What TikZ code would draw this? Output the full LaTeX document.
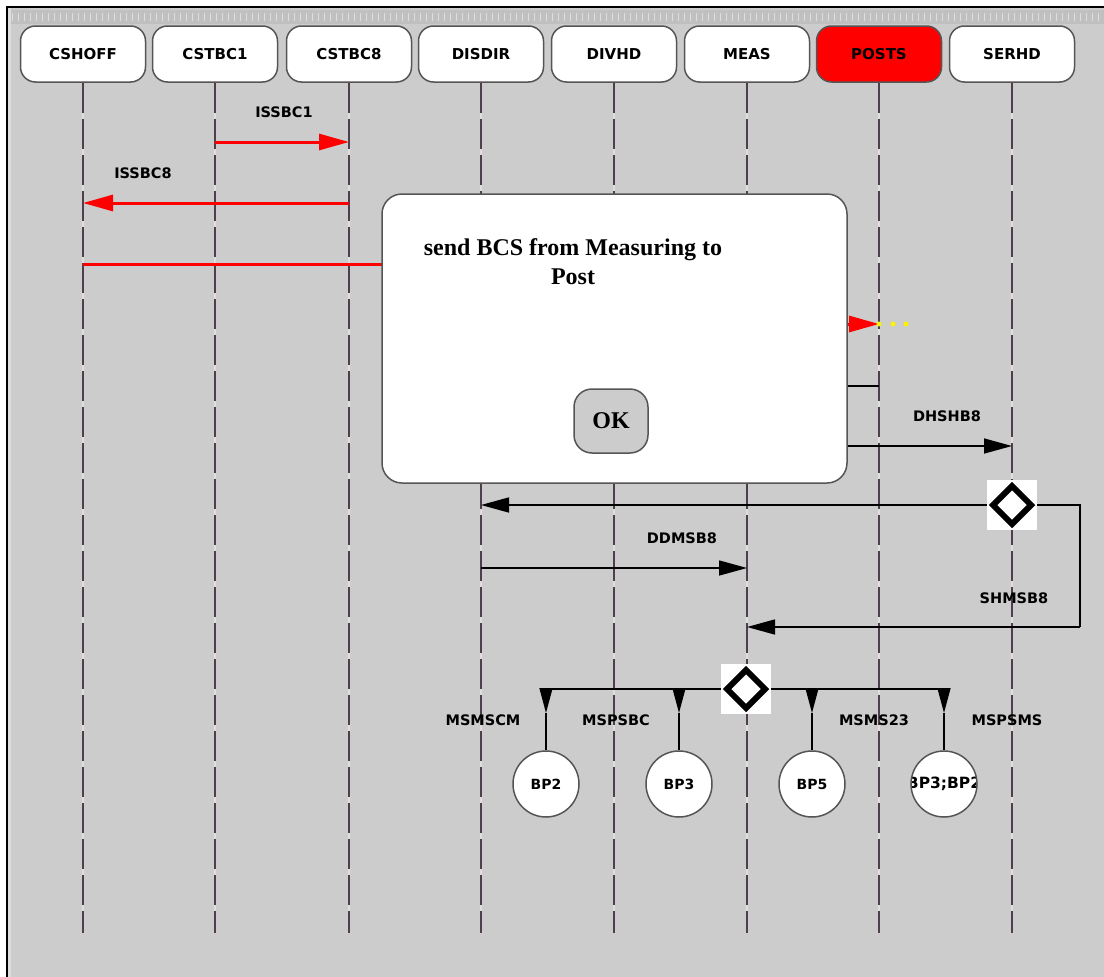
\documentclass[tikz,border=0pt]{standalone}
\usepackage{fontspec}
\usepackage{xcolor}
\usepackage{tikz}
\usetikzlibrary{arrows.meta}
\newfontfamily\dlgfont{DejaVu Sans}
\newfontfamily\popfont{Liberation Serif}
\definecolor{panelgray}{RGB}{204,204,204}
\definecolor{rulergray}{RGB}{192,192,192}
\definecolor{tickgray}{RGB}{222,222,222}
\definecolor{lifecol}{RGB}{78,62,78}
\definecolor{edgecol}{RGB}{85,85,85}
\tikzset{
  hdr/.style={draw=edgecol, line width=1.5pt, rounded corners=15pt, minimum width=125pt,
    minimum height=56pt, inner sep=0pt, font=\dlgfont\bfseries\fontsize{15}{18}\selectfont},
  life/.style={lifecol, line width=2pt, dash pattern=on 30pt off 6pt},
  lifegap/.style={tickgray, line width=1.5pt},
  redmsg/.style={red, line width=3pt, -{Triangle[length=30pt,width=16pt]}},
  blkmsg/.style={black, line width=1.5pt, -{Triangle[length=28pt,width=15pt]}},
  tipdown/.style={black, line width=1.5pt, -{Triangle[length=25pt,width=13pt]}},
  lbl/.style={font=\dlgfont\bfseries\fontsize{14.5}{17}\selectfont, inner sep=0pt},
  bp/.style={circle, draw=edgecol, line width=1.5pt, fill=white, minimum size=66pt,
    inner sep=0pt, font=\dlgfont\bfseries\fontsize{14}{16}\selectfont},
  choicebg/.style={fill=white, minimum size=50pt, inner sep=0pt},
  choicemark/.style={black, line width=6pt, line join=miter}
}

\begin{document}
\begin{tikzpicture}[x=1pt,y=-1pt]
    \useasboundingbox (0,0) rectangle (1104,977);
    \fill[white] (0,0) rectangle (1104,977);
    \fill[panelgray] (8,8) rectangle (1104,977);
    \fill[rulergray] (8,10) rectangle (1104,24);
    \fill[tickgray] (8,8) rectangle (11,977);
    \foreach \t in {12,18,...,1100}
        \draw[tickgray, line width=1pt] (\t,13) -- (\t,21);
    \draw[line width=2pt] (7,977) -- (7,7) -- (1104,7);

    % lifelines
    \foreach \nm/\xx/\lab/\fc in {cshoff/83/CSHOFF/white, cstbc1/215/CSTBC1/white,
        cstbc8/349/CSTBC8/white, disdir/481/DISDIR/white, divhd/614/DIVHD/white,
        meas/747/MEAS/white, posts/879/POSTS/red, serhd/1012/SERHD/white} {
        \node[hdr, fill=\fc] (\nm) at (\xx,54) {\lab};
        \coordinate (\nm-end) at (\xx,933);
        \draw[lifegap] (\nm.south) -- (\nm-end);
        \draw[life] (\nm.south) -- (\nm-end);
    }

    % red messages
    \coordinate (a1) at (215,142);
    \coordinate (a2) at (349,142);
    \draw[redmsg] (a1) -- (a2);
    \node[lbl] (issbc1) at (284,112) {ISSBC1};
    \coordinate (b1) at (349,203);
    \coordinate (b2) at (83,203);
    \draw[redmsg] (b1) -- (b2);
    \node[lbl] (issbc8) at (143,173) {ISSBC8};
    \coordinate (c1) at (83,264);
    \coordinate (c2) at (481,264);
    \draw[redmsg] (c1) -- (c2);
    \coordinate (d1) at (747,324);
    \coordinate (d2) at (879,324);
    \draw[redmsg] (d1) -- (d2);
    \foreach \dx in {879,893,906}
        \fill[yellow] (\dx,324) circle (2.5pt);

    % black messages
    \coordinate (e1) at (747,386);
    \coordinate (e2) at (879,386);
    \draw[black, line width=1.5pt] (e1) -- (e2);
    \coordinate (f1) at (614,446);
    \coordinate (f2) at (1012,446);
    \draw[blkmsg] (f1) -- (f2);
    \node[lbl] (dhshb8) at (947,416) {DHSHB8};

    \node[choicebg] (selhd) at (1012,505) {};
    \coordinate (g2) at (481,505);
    \coordinate (g3) at (1080,505);
    \coordinate (g4) at (1080,627);
    \coordinate (g5) at (747,627);
    \draw[blkmsg] (selhd.west) -- (g2);
    \draw[black, line width=1.5pt] (selhd.east) -- (g3) -- (g4);
    \draw[blkmsg] (g4) -- (g5);
    \draw[choicemark, shift={(selhd.center)}] (-19,0) -- (0,-19) -- (19,0) -- (0,19) -- cycle;
    \node[lbl] (shmsb8) at (1014,598) {SHMSB8};

    \coordinate (h1) at (481,568);
    \coordinate (h2) at (747,568);
    \draw[blkmsg] (h1) -- (h2);
    \node[lbl] (ddmsb8) at (682,538) {DDMSB8};

    % branches
    \coordinate (brl) at (546,689);
    \coordinate (brr) at (944,689);
    \draw[black, line width=1.5pt] (brl) -- (brr);
    \node[choicebg] (selms) at (746,689) {};
    \draw[choicemark, shift={(selms.center)}] (-19,0) -- (0,-19) -- (19,0) -- (0,19) -- cycle;
    \foreach \nm/\xx/\lab in {bp2/546/BP2, bp3/679/BP3, bp5/812/BP5} {
        \node[bp] (\nm) at (\xx,784) {\lab};
    }
    \node[bp, path picture={\node[font=\dlgfont\bfseries\fontsize{15.5}{17}\selectfont]
        at (path picture bounding box.center) {BP3;BP2};}] (bp32) at (944,784) {};
    \foreach \nm/\xx in {bp2/546, bp3/679, bp5/812, bp32/944} {
        \coordinate (\nm-top) at (\xx,688);
        \draw[tipdown] (\nm-top) -- ++(0,25) coordinate (\nm-tip);
        \draw[black, line width=1.5pt] (\nm-tip) -- (\nm.north);
    }
    \node[lbl] (msmscm) at (483,720) {MSMSCM};
    \node[lbl] (mspsbc) at (616,720) {MSPSBC};
    \node[lbl] (msms23) at (874,720) {MSMS23};
    \node[lbl] (mspsms) at (1007,720) {MSPSMS};

    % dialog
    \draw[edgecol, fill=white, line width=1.5pt, rounded corners=20pt] (382,194) rectangle (847,483);
    \node[font=\popfont\bfseries\fontsize{24}{29}\selectfont, align=center, inner sep=0pt]
        (poptext) at (573,262) {send BCS from Measuring to\\Post};
    \node[draw=edgecol, fill=panelgray, line width=1.5pt, rounded corners=18pt,
        minimum width=74pt, minimum height=64pt, inner sep=0pt,
        font=\popfont\bfseries\fontsize{24}{29}\selectfont] (okbtn) at (611,421) {OK};
\end{tikzpicture}
\end{document}
